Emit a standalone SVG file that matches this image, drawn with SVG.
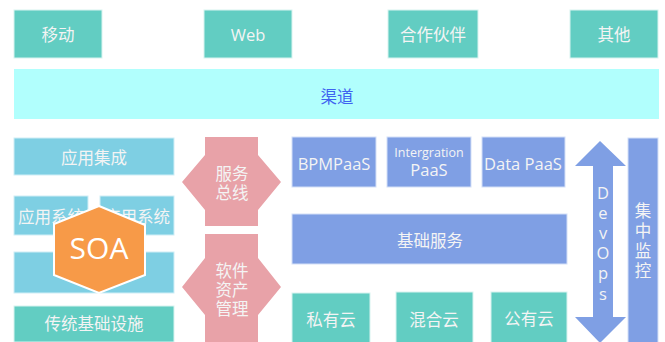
<svg xmlns="http://www.w3.org/2000/svg" width="665" height="342" viewBox="0 0 665 342">
<style>
text{font-family:"Open Sans","Noto Sans CJK SC",sans-serif;fill:#F4F4F4;text-anchor:middle;dominant-baseline:central;font-size:16.5px}
.teal{fill:#62CDC2;stroke:#D8F3F0;stroke-width:1}
.lb{fill:#7ECFE3;stroke:#D0EEF6;stroke-width:1}
.bl{fill:#7F9FE4;stroke:#D4DFF7;stroke-width:1}
.pk{fill:#E8A2A8}
</style>
<rect width="665" height="342" fill="#FFFFFF"/>
<g id="mobile"><rect class="teal" x="14" y="10" width="88" height="48"/><text x="58" y="34">移动</text></g>
<g id="web"><rect class="teal" x="204" y="10" width="88" height="48"/><text x="248" y="34">Web</text></g>
<g id="partner"><rect class="teal" x="388" y="10" width="90" height="48"/><text x="433" y="34">合作伙伴</text></g>
<g id="other"><rect class="teal" x="570" y="10" width="88" height="48"/><text x="614" y="34">其他</text></g>
<g id="channel"><rect x="14" y="69" width="645" height="50" fill="#B1FFFD"/><text x="337" y="96" style="fill:#3F63F0">渠道</text></g>

<g id="app-integration"><rect class="lb" x="14" y="138" width="160" height="37"/><text x="94" y="157">应用集成</text></g>
<g id="app-sys-1"><rect class="lb" x="14" y="196" width="74" height="39"/><text x="51" y="216">应用系统</text></g>
<g id="app-sys-2"><rect class="lb" x="100" y="196" width="74" height="39"/><text x="137" y="216">应用系统</text></g>
<g id="app-row3"><rect class="lb" x="14" y="252" width="160" height="41"/></g>
<g id="legacy-infra"><rect class="teal" x="14" y="306" width="160" height="36"/><text x="94" y="323">传统基础设施</text></g>
<g id="soa"><polygon points="99,206 145,225 145,275 99,293 54,275 54,224" fill="#F79A48" stroke="#FFFFFF" stroke-width="2"/><text x="99" y="247" style="font-size:30px;fill:#FFFFFF">SOA</text></g>

<g id="service-bus"><polygon class="pk" points="182,182 205,155 205,137 258,137 258,155 281,182 258,210 258,226 205,226 205,210"/><text x="232" y="173">服务</text><text x="232" y="192">总线</text></g>
<g id="asset-mgmt"><polygon class="pk" points="182,287 205,258 205,234 258,234 258,258 281,287 258,315 258,342 205,342 205,315"/><text x="232" y="270">软件</text><text x="232" y="289">资产</text><text x="232" y="308">管理</text></g>

<g id="bpmpaas"><rect class="bl" x="292" y="137" width="84" height="50"/><text x="334" y="163">BPMPaaS</text></g>
<g id="integration-paas"><rect class="bl" x="387" y="137" width="84" height="50"/><text x="429" y="152" style="font-size:12.5px">Intergration</text><text x="429" y="169">PaaS</text></g>
<g id="data-paas"><rect class="bl" x="482" y="137" width="83" height="50"/><text x="523" y="163">Data PaaS</text></g>
<g id="base-services"><rect class="bl" x="292" y="214" width="275" height="50"/><text x="430" y="240">基础服务</text></g>
<g id="private-cloud"><rect class="teal" x="292" y="293" width="78" height="50"/><text x="331" y="319">私有云</text></g>
<g id="hybrid-cloud"><rect class="teal" x="396" y="292" width="77" height="51"/><text x="434" y="319">混合云</text></g>
<g id="public-cloud"><rect class="teal" x="491" y="292" width="76" height="51"/><text x="529" y="318">公有云</text></g>

<g id="devops"><polygon points="600,141 626,166 613,166 613,317 626,317 600,343 575,317 593,317 593,166 575,166" fill="#7F9FE4"/><text x="603" y="192">D</text><text x="603" y="212">e</text><text x="603" y="232">v</text><text x="603" y="252">O</text><text x="603" y="272">p</text><text x="603" y="293">s</text></g>
<g id="monitoring"><rect class="bl" x="628" y="138" width="30" height="205"/><text x="643" y="210">集</text><text x="643" y="230">中</text><text x="643" y="250">监</text><text x="643" y="270">控</text></g>
<g id="connectors"/>
</svg>
